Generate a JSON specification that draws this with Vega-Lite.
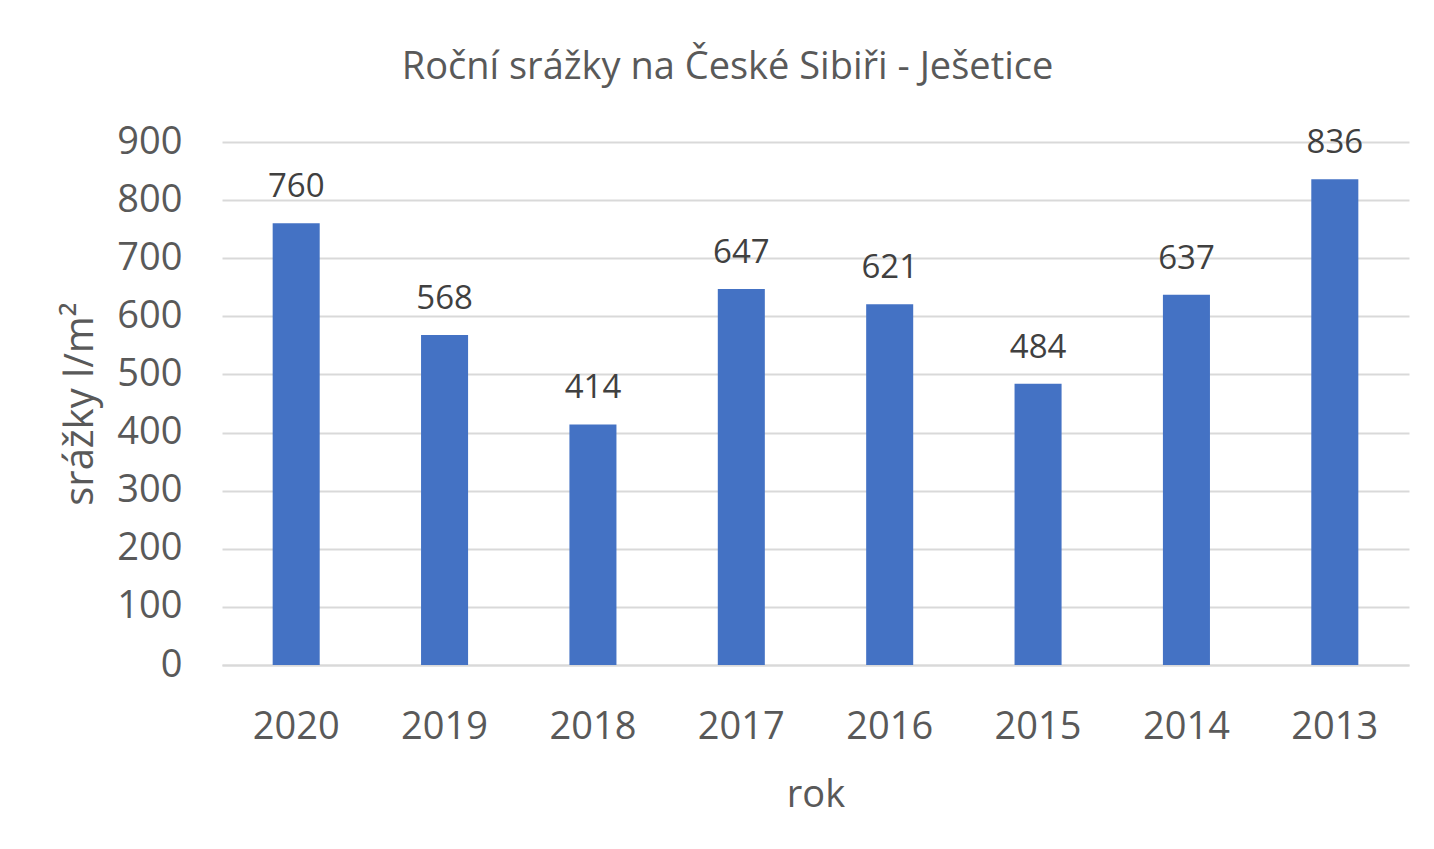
{
  "$schema": "https://vega.github.io/schema/vega-lite/v6.json",
  "width": 1187,
  "height": 523,
  "autosize": {"type": "none"},
  "padding": {"left": 222, "top": 142, "right": 25, "bottom": 184},
  "background": "white",
  "title": {
    "text": "Roční srážky na České Sibiři - Ješetice",
    "font": "Open Sans",
    "fontSize": 38,
    "fontWeight": "normal",
    "color": "#595959",
    "anchor": "middle",
    "dx": -88,
    "offset": 36
  },
  "data": {
    "values": [
      {"rok": "2020", "srazky": 760},
      {"rok": "2019", "srazky": 568},
      {"rok": "2018", "srazky": 414},
      {"rok": "2017", "srazky": 647},
      {"rok": "2016", "srazky": 621},
      {"rok": "2015", "srazky": 484},
      {"rok": "2014", "srazky": 637},
      {"rok": "2013", "srazky": 836}
    ]
  },
  "encoding": {
    "x": {
      "field": "rok",
      "type": "nominal",
      "sort": null,
      "scale": {"paddingInner": 0.683, "paddingOuter": 0.3415},
      "axis": {
        "title": "rok",
        "labelAngle": 0,
        "labelFont": "Open Sans",
        "labelFontSize": 38,
        "labelColor": "#595959",
        "labelPadding": 43,
        "ticks": false,
        "domain": true,
        "domainColor": "#D9D9D9",
        "domainWidth": 2,
        "titleFont": "Open Sans",
        "titleFontSize": 38,
        "titleFontWeight": "normal",
        "titleColor": "#595959",
        "titlePadding": 30
      }
    },
    "y": {
      "field": "srazky",
      "type": "quantitative",
      "scale": {"domain": [0, 900], "nice": false},
      "axis": {
        "title": "srážky l/m²",
        "values": [0, 100, 200, 300, 400, 500, 600, 700, 800, 900],
        "labelFont": "Open Sans",
        "labelFontSize": 38,
        "labelColor": "#595959",
        "labelPadding": 40,
        "ticks": false,
        "domain": false,
        "grid": true,
        "gridColor": "#D9D9D9",
        "gridWidth": 2,
        "titleFont": "Open Sans",
        "titleFontSize": 40,
        "titleFontWeight": "normal",
        "titleColor": "#595959",
        "titlePadding": 16
      }
    }
  },
  "layer": [
    {"mark": {"type": "bar", "color": "#4472C4"}},
    {
      "mark": {
        "type": "text",
        "font": "Open Sans",
        "fontSize": 33,
        "color": "#404040",
        "baseline": "alphabetic",
        "dy": -26
      },
      "encoding": {"text": {"field": "srazky", "type": "quantitative"}}
    }
  ],
  "config": {"view": {"stroke": null}}
}
